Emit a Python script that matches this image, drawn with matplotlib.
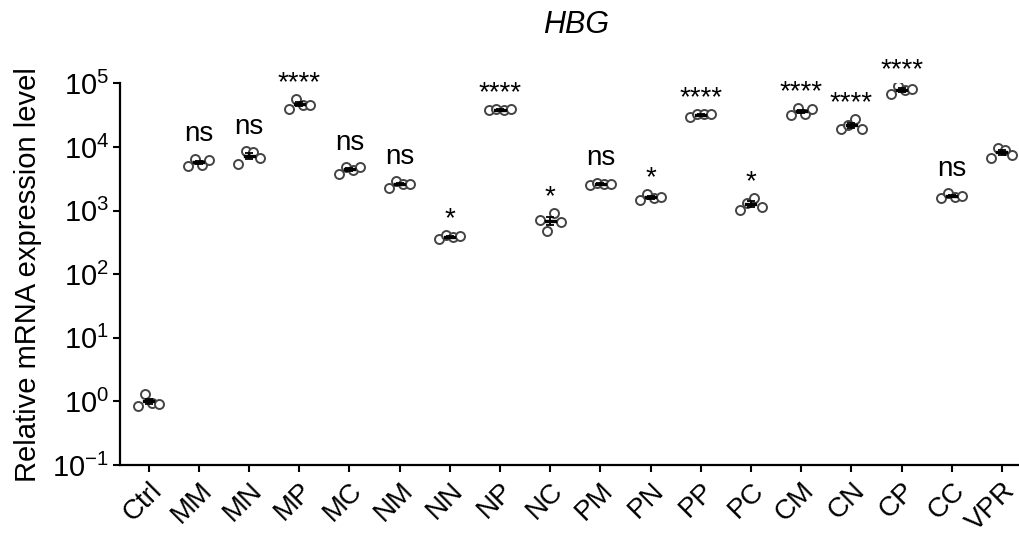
import numpy as np
import matplotlib
matplotlib.use('Agg')
from matplotlib import pyplot as plt
from matplotlib import ticker

plt.rcParams['font.family'] = ['Liberation Sans', 'DejaVu Sans']
plt.rcParams['mathtext.fontset'] = 'custom'
plt.rcParams['mathtext.rm'] = 'Liberation Sans'
plt.rcParams['mathtext.it'] = 'Liberation Sans:italic'

groups = ['Ctrl', 'MM', 'MN', 'MP', 'MC', 'NM', 'NN', 'NP', 'NC',
          'PM', 'PN', 'PP', 'PC', 'CM', 'CN', 'CP', 'CC', 'VPR']

# 4 replicates per group
reps = [
    [0.86, 1.30, 0.96, 0.90],          # Ctrl
    [4980, 6580, 5170, 6170],          # MM
    [5350, 8650, 8400, 6800],          # MN
    [39000, 57500, 46000, 46400],      # MP
    [3820, 4850, 4410, 4850],          # MC
    [2290, 2920, 2590, 2650],          # NM
    [356, 411, 386, 398],              # NN
    [38000, 39000, 38500, 39500],      # NP
    [706, 480, 920, 650],              # NC
    [2510, 2760, 2620, 2620],          # PM
    [1456, 1807, 1548, 1607],          # PN
    [29600, 33400, 32600, 32600],      # PP
    [1010, 1300, 1600, 1150],          # PC
    [31500, 41500, 32600, 39000],      # CM
    [18970, 21900, 27900, 18970],      # CN
    [67100, 90700, 77600, 80500],      # CP
    [1550, 1897, 1640, 1670],          # CC
    [6800, 9700, 9000, 7400],          # VPR
]

sig = ['', 'ns', 'ns', '****', 'ns', 'ns', '*', '****', '*',
       'ns', '*', '****', '*', '****', '****', '****', 'ns', '']

jit = [-0.21, -0.07, 0.07, 0.21]

fig = plt.figure(figsize=(10.19, 5.36), dpi=100)
ax = fig.add_axes([0.118, 0.1325, 0.882, 0.712])

for i, vals in enumerate(reps):
    vals = np.array(vals)
    xs = i + np.array(jit)
    ax.scatter(xs, vals, s=42, facecolors='white', edgecolors='#444444',
               linewidths=1.4, zorder=3)
    # mean line + SEM
    m = vals.mean()
    se = vals.std(ddof=1) / np.sqrt(len(vals))
    ax.errorbar(i, m, yerr=se, fmt='none', ecolor='black', elinewidth=1.3,
                capsize=3, capthick=1.3, zorder=4)
    ax.plot([i - 0.09, i + 0.09], [m, m], color='black', lw=2.4, zorder=4)
    if sig[i]:
        if sig[i] == 'ns':
            ax.annotate(sig[i], (i, vals.max()), xytext=(0, 8),
                        textcoords='offset points', ha='center', va='bottom',
                        fontsize=20, annotation_clip=False)
        else:
            ax.annotate(sig[i], (i, vals.max()), xytext=(0, 2),
                        textcoords='offset points', ha='center', va='bottom',
                        fontsize=20, annotation_clip=False)

ax.set_yscale('log')
ax.set_ylim(0.1, 1e5)
ax.set_xlim(-0.566, 17.34)
ax.set_xticks(range(len(groups)))
ax.set_xticklabels(groups, rotation=45, ha='right', rotation_mode='anchor',
                   fontsize=20)
ax.set_yticks([1e-1, 1e0, 1e1, 1e2, 1e3, 1e4, 1e5])
ax.yaxis.set_major_formatter(ticker.FuncFormatter(
    lambda v, p: r'$\mathregular{10^{%d}}$' % round(np.log10(v))))
ax.yaxis.set_minor_locator(ticker.NullLocator())
ax.tick_params(axis='y', labelsize=21, width=1.5, length=5, pad=3)
ax.tick_params(axis='x', width=1.5, length=5, pad=4)
for s in ['top', 'right']:
    ax.spines[s].set_visible(False)
for s in ['left', 'bottom']:
    ax.spines[s].set_linewidth(1.6)
ax.set_ylabel('Relative mRNA expression level', fontsize=21)
ax.yaxis.set_label_coords(-0.087, 0.5)

fig.text(0.565, 0.953, 'HBG', fontsize=22, style='italic', ha='center',
         va='center')

fig.savefig('out.png', dpi=100)
